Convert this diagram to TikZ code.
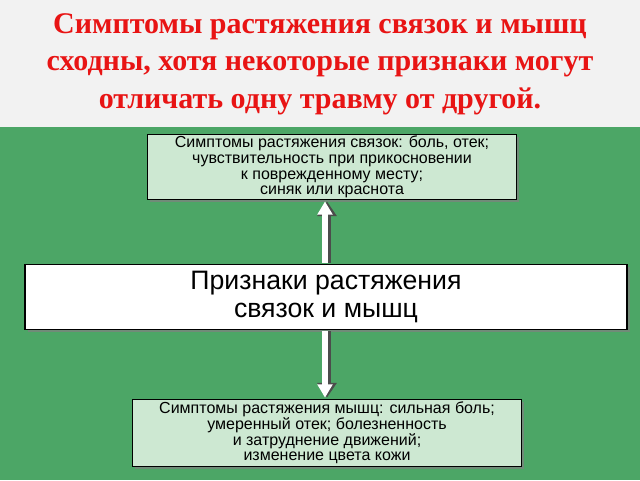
\documentclass[tikz,border=0pt]{standalone}
\usepackage{fontspec}
\setmainfont{Liberation Serif}
\newfontfamily\boxfont{Liberation Sans}
\usetikzlibrary{positioning,shadows,arrows.meta}
\definecolor{slidegreen}{RGB}{76,166,102}
\definecolor{boxgreen}{RGB}{205,232,210}
\definecolor{titlered}{RGB}{232,20,20}
\begin{document}
\begin{tikzpicture}[x=0.75pt, y=-0.75pt,
    infobox/.style={draw, thick, fill=boxgreen, align=center, font=\boxfont\fontsize{12pt}{11.8pt}\selectfont, inner sep=0pt, drop shadow={shadow xshift=2pt, shadow yshift=-2pt, opacity=0.7}},
    linkarrow/.style={-{Triangle[length=10pt, width=11pt]}, line width=4.5pt, white, shorten <=1pt, shorten >=1pt},
    arrowshade/.style={linkarrow, black!70, line width=6.5pt, -{Triangle[length=11pt, width=14pt]}}]
  \useasboundingbox (0,0) rectangle (640,480);
  \fill[gray!10] (0,0) rectangle (640,127);
  \fill[slidegreen] (0,127) rectangle (640,480);
  \node[text=titlered, font=\bfseries\fontsize{22.5pt}{28pt}\selectfont, align=center] (title) at (320,64)
    {Симптомы растяжения связок и мышц\\сходны, хотя некоторые признаки могут\\отличать одну травму от другой.};
  \node[infobox, minimum width=369*0.75pt, minimum height=65*0.75pt] (ligament) at (332,167)
    {Симптомы растяжения связок: боль, отек;\\чувствительность при прикосновении\\к поврежденному месту;\\синяк или краснота};
  \node[infobox, fill=white, minimum width=602*0.75pt, minimum height=65*0.75pt, font=\boxfont\fontsize{20pt}{21pt}\selectfont] (signs) at (326,297)
    {Признаки растяжения\\связок и мышц};
  \node[infobox, minimum width=389*0.75pt, minimum height=67*0.75pt] (muscle) at (327,433)
    {Симптомы растяжения мышц: сильная боль;\\умеренный отек; болезненность\\и затруднение движений;\\изменение цвета кожи};
  \coordinate (axis) at (325,0);
  \draw[arrowshade] ([xshift=1.5pt]signs.north -| axis) -- ([xshift=1.5pt]ligament.south -| axis);
  \draw[linkarrow] (signs.north -| axis) -- (ligament.south -| axis);
  \draw[arrowshade] ([xshift=1.5pt]signs.south -| axis) -- ([xshift=1.5pt]muscle.north -| axis);
  \draw[linkarrow] (signs.south -| axis) -- (muscle.north -| axis);
\end{tikzpicture}
\end{document}
